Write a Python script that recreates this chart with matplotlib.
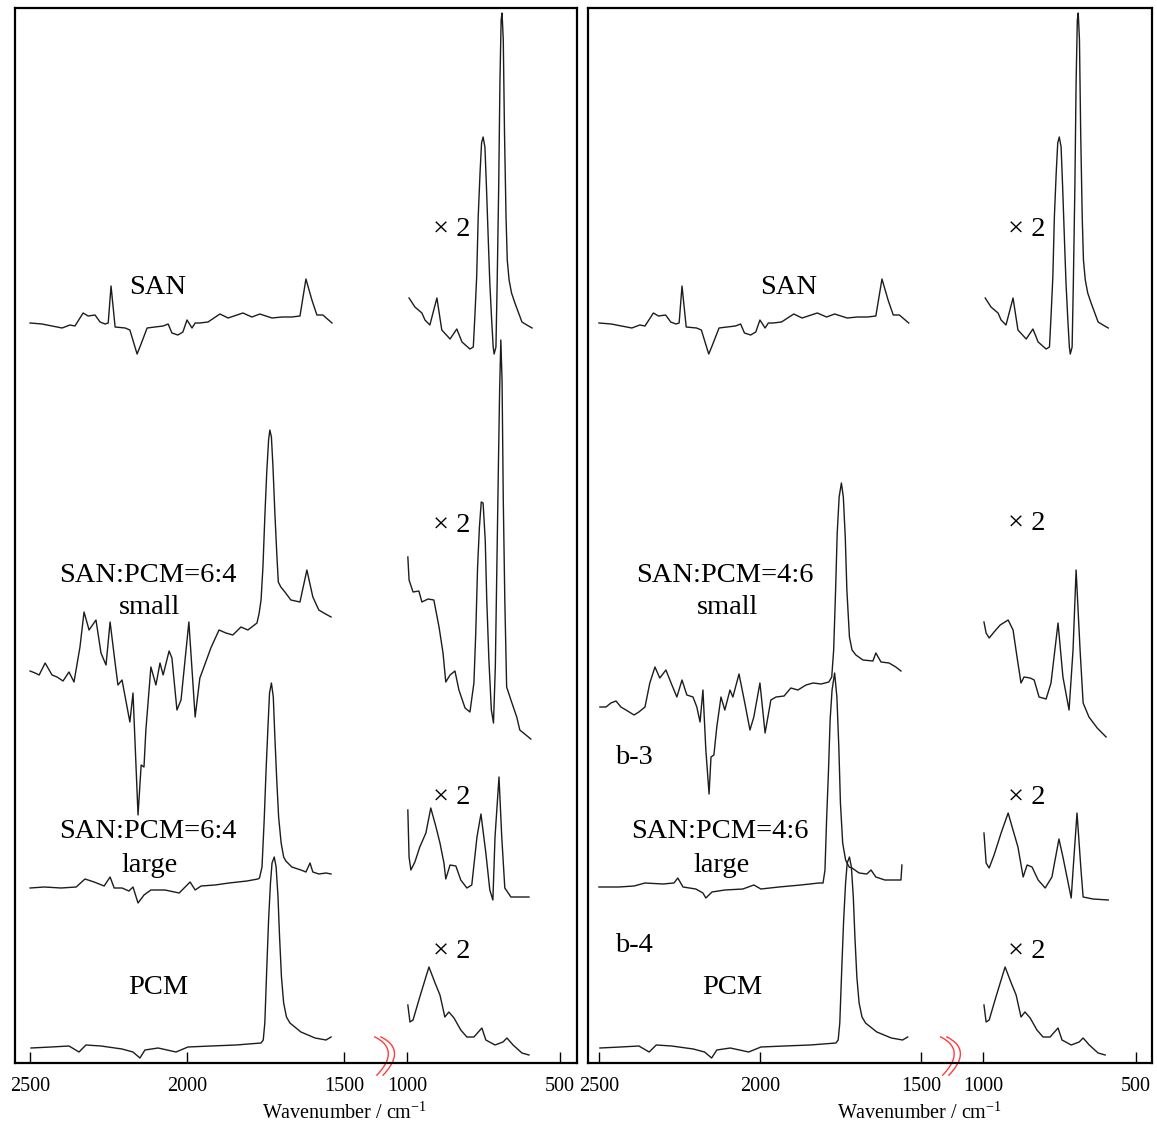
import numpy as np
import matplotlib
matplotlib.use('Agg')
import matplotlib.pyplot as plt
from matplotlib.path import Path
from matplotlib.patches import PathPatch

# ---- spectra (wavenumber / cm-1, relative intensity) ----
# SAN (same reference spectrum in both panels)
san_wn_hi = [2500, 2462, 2398, 2373, 2357, 2331, 2315, 2293, 2277, 2261, 2251, 2242, 2229, 2197,
             2182, 2159, 2150, 2127, 2102, 2076, 2060, 2048, 2029, 2013, 2000, 1984, 1974, 1959,
             1933, 1895, 1869, 1822, 1793, 1768, 1729, 1697, 1666, 1640, 1621, 1602, 1586, 1567, 1538]
san_int_hi = [0, -1, -5, -2, -3, 10, 7, 8, 1, -1, 0, 37, -4, -5,
              -7, -31, -24, -5, -4, -3, -1, -10, -12, -9, 3, -5, 0, 0,
              1, 9, 5, 10, 6, 9, 5, 6, 6, 7, 44, 23, 8, 8, 0]
san_wn_lo = [993, 974, 951, 941, 925, 902, 886, 859, 837, 820, 794, 783, 778, 772, 767,
             761, 756, 751, 745, 740, 734, 729, 723, 718, 715, 709, 705, 700, 696, 692,
             689, 685, 681, 676, 672, 666, 658, 647, 624, 608, 591]
san_int_lo = [25, 16, 10, 3, -2, 25, -7, -16, -6, -19, -26, -24, 6, 46, 106,
              150, 180, 186, 176, 136, 83, 40, 3, -24, -31, -24, 40, 136, 240, 303,
              310, 283, 190, 106, 63, 43, 30, 20, 1, -2, -5]

# SAN:PCM=6:4 small
m64s_wn_hi = [2500, 2484, 2471, 2452, 2430, 2414, 2395, 2376, 2360, 2341, 2328, 2312, 2290, 2274,
              2258, 2245, 2229, 2220, 2207, 2182, 2172, 2156, 2146, 2137, 2131, 2115, 2099, 2086,
              2076, 2057, 2048, 2032, 2019, 1994, 1974, 1959, 1946, 1924, 1898, 1876, 1854, 1828,
              1806, 1777, 1770, 1764, 1758, 1752, 1746, 1740, 1736, 1731, 1726, 1720, 1714, 1709,
              1701, 1688, 1669, 1640, 1618, 1599, 1580, 1564, 1541]
m64s_int_hi = [0, -2, -4, 8, -4, -6, -10, -1, -11, 24, 59, 41, 51, 18,
               6, 49, 8, -14, -9, -51, -22, -144, -94, -96, -59, 4, -14, 8,
               -4, 20, 13, -39, -29, 49, -46, -7, 4, 23, 41, 38, 36, 44,
               41, 48, 58, 71, 104, 154, 198, 231, 241, 234, 204, 158, 118, 89,
               84, 79, 71, 69, 101, 74, 61, 58, 54]
m64s_wn_lo = [997, 993, 980, 961, 951, 931, 912, 895, 882, 873, 859, 843, 830, 810, 794,
              781, 775, 769, 763, 757, 751, 744, 739, 732, 724, 717, 711, 706, 701, 697,
              693, 689, 685, 680, 674, 660, 641, 631, 611, 595]
m64s_int_lo = [114, 91, 79, 80, 69, 72, 71, 44, 18, -11, -4, 0, -19, -37, -41,
               -12, 38, 104, 144, 169, 168, 131, 71, 11, -39, -52, 4, 104, 204, 280,
               331, 290, 171, 71, -16, -29, -46, -59, -64, -68]

# SAN:PCM=6:4 large
m64l_wn_hi = [2500, 2455, 2401, 2353, 2325, 2296, 2264, 2245, 2232, 2207, 2185, 2172, 2156, 2137,
              2115, 2070, 2025, 1990, 1974, 1955, 1911, 1866, 1809, 1774, 1769, 1761, 1754, 1748,
              1742, 1737, 1731, 1725, 1720, 1714, 1708, 1700, 1692, 1685, 1666, 1637, 1621, 1608,
              1599, 1580, 1557, 1541]
m64l_int_hi = [0, 1, 0, 1, 9, 6, 2, 11, 0, 0, -3, 1, -15, -7,
               -2, -2, -5, 6, -2, 2, 3, 5, 7, 9, 10, 21, 68, 118,
               161, 195, 205, 191, 151, 108, 71, 45, 31, 27, 21, 18, 16, 25,
               16, 14, 15, 14]
m64l_wn_lo = [997, 993, 987, 974, 958, 938, 922, 905, 892, 879, 873, 859, 840, 824, 804, 788,
              771, 758, 742, 729, 719, 712, 699, 690, 680, 660, 634, 601]
m64l_int_lo = [78, 31, 18, 26, 41, 55, 80, 61, 45, 25, 9, 23, 22, 8, 0, 3,
               51, 74, 35, -2, -12, 51, 111, 51, 0, -9, -9, -9]

# PCM (same reference spectrum in both panels)
pcm_wn_hi = [2497, 2433, 2376, 2344, 2322, 2274, 2207, 2172, 2150, 2134, 2092, 2035, 1997,
             1924, 1844, 1764, 1757, 1752, 1746, 1740, 1734, 1729, 1722, 1716, 1710, 1705,
             1699, 1692, 1683, 1672, 1637, 1592, 1557, 1541]
pcm_int_hi = [0, 1, 2, -4, 3, 2, -1, -4, -10, -2, 0, -4, 1,
              2, 3, 5, 8, 25, 78, 128, 165, 185, 191, 181, 151, 111,
              71, 45, 31, 25, 16, 10, 8, 11]
pcm_wn_lo = [997, 990, 980, 958, 928, 908, 892, 876, 863, 846, 824, 804, 781, 755, 742,
             712, 686, 673, 653, 624, 601]
pcm_int_lo = [43, 26, 28, 51, 81, 65, 53, 31, 36, 30, 18, 11, 11, 20, 8,
              3, 6, 10, 3, -5, -7]

# SAN:PCM=4:6 small
m46s_wn_hi = [2497, 2478, 2463, 2447, 2432, 2416, 2391, 2376, 2357, 2342, 2326, 2311, 2292, 2276,
              2258, 2242, 2227, 2208, 2196, 2186, 2177, 2168, 2158, 2152, 2143, 2134, 2121, 2109,
              2093, 2084, 2065, 2047, 2031, 2019, 2000, 1984, 1966, 1950, 1925, 1904, 1882, 1857,
              1835, 1810, 1786, 1777, 1771, 1765, 1760, 1754, 1747, 1741, 1735, 1730, 1722, 1714,
              1702, 1680, 1649, 1640, 1624, 1599, 1578, 1562]
m46s_int_hi = [0, 0, 4, 6, 0, -3, -8, -5, 0, 24, 40, 29, 37, 24,
               10, 27, 12, 10, 0, -15, 17, -43, -87, -50, -48, -20, 10, -3,
               17, 10, 33, 4, -23, -10, 24, -26, 7, 10, 11, 19, 17, 22,
               24, 23, 25, 30, 57, 117, 174, 210, 224, 210, 170, 117, 70, 57,
               52, 47, 46, 54, 45, 44, 40, 36]
m46s_wn_lo = [997, 990, 980, 964, 944, 918, 902, 889, 876, 866, 846, 833, 817, 794, 778,
              755, 739, 719, 706, 696, 683, 673, 654, 627, 598]
m46s_int_lo = [85, 74, 69, 75, 82, 87, 77, 50, 24, 30, 29, 27, 10, 8, 24,
               84, 30, -3, 57, 137, 57, 4, -10, -21, -30]

# SAN:PCM=4:6 large
m46l_wn_hi = [2500, 2438, 2391, 2357, 2301, 2267, 2255, 2239, 2199, 2177, 2168, 2149, 2109, 2053,
              2019, 1997, 1941, 1873, 1817, 1804, 1798, 1793, 1787, 1782, 1776, 1768, 1761, 1755,
              1750, 1743, 1734, 1723, 1714, 1692, 1668, 1655, 1640, 1612, 1562, 1559]
m46l_int_hi = [0, 0, 1, 4, 3, 4, 9, 0, -2, -6, -11, -5, -3, -2,
               2, -2, 0, 2, 4, 4, 17, 67, 117, 167, 197, 214, 190, 140,
               84, 44, 27, 20, 19, 14, 13, 17, 10, 7, 7, 22]
m46l_wn_lo = [997, 990, 980, 964, 941, 918, 905, 886, 869, 856, 840, 820, 797, 775, 752,
              739, 712, 703, 693, 680, 673, 641, 591]
m46l_int_lo = [54, 24, 19, 32, 54, 74, 60, 40, 10, 22, 20, 7, -1, 10, 48,
               30, -11, 30, 74, 17, -10, -12, -13]

tick_values = [2500, 2000, 1500, 1000, 500]


def broken_scale(gap, stretch):
    # 1500 -> 1000 squeezed into a short gap, upper range slightly stretched
    def fwd(w):
        w = np.asarray(w, dtype=float)
        return np.where(w <= 1000, w,
                        np.where(w <= 1500, 1000 + (w - 1000) * gap / 500,
                                 1000 + gap + (w - 1500) * stretch))

    def inv(u):
        u = np.asarray(u, dtype=float)
        return np.where(u <= 1000, u,
                        np.where(u <= 1000 + gap, 1000 + (u - 1000) * 500 / gap,
                                 1500 + (u - 1000 - gap) / stretch))
    return fwd, inv


plt.rcParams['font.family'] = ['Liberation Serif', 'DejaVu Serif']
plt.rcParams['mathtext.fontset'] = 'custom'
plt.rcParams['mathtext.rm'] = 'Liberation Serif'

LINE = '#1c1c1c'
LBL = 20.5


def draw_break(ax, x0):
    # two red wavy strokes across the bottom spine
    for dx in (0.0, 0.011):
        xs = x0 + dx
        verts = [(xs, 0.025), (xs + 0.036, 0.016), (xs + 0.030, 0.002), (xs + 0.004, -0.012)]
        codes = [Path.MOVETO, Path.CURVE4, Path.CURVE4, Path.CURVE4]
        ax.add_patch(PathPatch(Path(verts, codes), fill=False, ec='#ff3c3c', lw=1.0,
                               transform=ax.transAxes, clip_on=False))


def setup_panel(ax, xlim, scale, break_x):
    ax.set_xscale('function', functions=scale)
    ax.set_xlim(*xlim)
    ax.set_ylim(0, 1055)
    ax.set_xticks(tick_values)
    ax.set_xticklabels([str(t) for t in tick_values])
    ax.xaxis.set_minor_locator(matplotlib.ticker.NullLocator())
    ax.set_yticks([])
    ax.tick_params(axis='x', direction='in', length=8, width=1.0, labelsize=14.5, pad=10)
    for sp in ax.spines.values():
        sp.set_linewidth(1.6)
        sp.set_color('black')
    ax.set_xlabel('Wavenumber / cm$^{-1}$', fontsize=14.5)
    ax.xaxis.set_label_coords(0.587, -0.037)
    draw_break(ax, break_x)


def plot_trace(ax, wn_hi, int_hi, wn_lo, int_lo, offset):
    for wn, val in ((wn_hi, int_hi), (wn_lo, int_lo)):
        ax.plot(wn, np.array(val) + offset, color=LINE, lw=1.0, solid_joinstyle='round')


fig = plt.figure(figsize=(11.57, 11.28), dpi=100)
ax1 = fig.add_axes([15 / 1157, 65 / 1128, 562 / 1157, 1055 / 1128])
ax2 = fig.add_axes([588 / 1157, 65 / 1128, 564 / 1157, 1055 / 1128])

# left panel: SAN:PCM = 6:4
setup_panel(ax1, (2548, 444), broken_scale(206, 1.026), 0.639)
plot_trace(ax1, san_wn_hi, san_int_hi, san_wn_lo, san_int_lo, 740)
plot_trace(ax1, m64s_wn_hi, m64s_int_hi, m64s_wn_lo, m64s_int_lo, 392)
plot_trace(ax1, m64l_wn_hi, m64l_int_hi, m64l_wn_lo, m64l_int_lo, 175)
plot_trace(ax1, pcm_wn_hi, pcm_int_hi, pcm_wn_lo, pcm_int_lo, 15)

ax1.text(2092, 775, 'SAN', fontsize=LBL, ha='center', va='center')
ax1.text(2124, 488, 'SAN:PCM=6:4', fontsize=LBL, ha='center', va='center')
ax1.text(2118, 455, 'small', fontsize=LBL, ha='center', va='center')
ax1.text(2124, 231, 'SAN:PCM=6:4', fontsize=LBL, ha='center', va='center')
ax1.text(2118, 198, 'large', fontsize=LBL, ha='center', va='center')
ax1.text(2092, 75, 'PCM', fontsize=LBL, ha='center', va='center')
for yy in (833, 538, 266, 111):
    ax1.text(853, yy, '× 2', fontsize=LBL, ha='center', va='center')

# right panel: SAN:PCM = 4:6
setup_panel(ax2, (2534, 448), broken_scale(203, 1.052), 0.624)
plot_trace(ax2, san_wn_hi, san_int_hi, san_wn_lo, san_int_lo, 740)
plot_trace(ax2, m46s_wn_hi, m46s_int_hi, m46s_wn_lo, m46s_int_lo, 356)
plot_trace(ax2, m46l_wn_hi, m46l_int_hi, m46l_wn_lo, m46l_int_lo, 176)
plot_trace(ax2, pcm_wn_hi, pcm_int_hi, pcm_wn_lo, pcm_int_lo, 15)

ax2.text(1910, 776, 'SAN', fontsize=LBL, ha='center', va='center')
ax2.text(2109, 488, 'SAN:PCM=4:6', fontsize=LBL, ha='center', va='center')
ax2.text(2102, 455, 'small', fontsize=LBL, ha='center', va='center')
ax2.text(2391, 306, 'b-3', fontsize=LBL, ha='center', va='center')
ax2.text(2124, 231, 'SAN:PCM=4:6', fontsize=LBL, ha='center', va='center')
ax2.text(2118, 198, 'large', fontsize=LBL, ha='center', va='center')
ax2.text(2391, 118, 'b-4', fontsize=LBL, ha='center', va='center')
ax2.text(2087, 75, 'PCM', fontsize=LBL, ha='center', va='center')
for yy in (833, 540, 266, 111):
    ax2.text(856, yy, '× 2', fontsize=LBL, ha='center', va='center')

fig.savefig('out.png', dpi=100)
